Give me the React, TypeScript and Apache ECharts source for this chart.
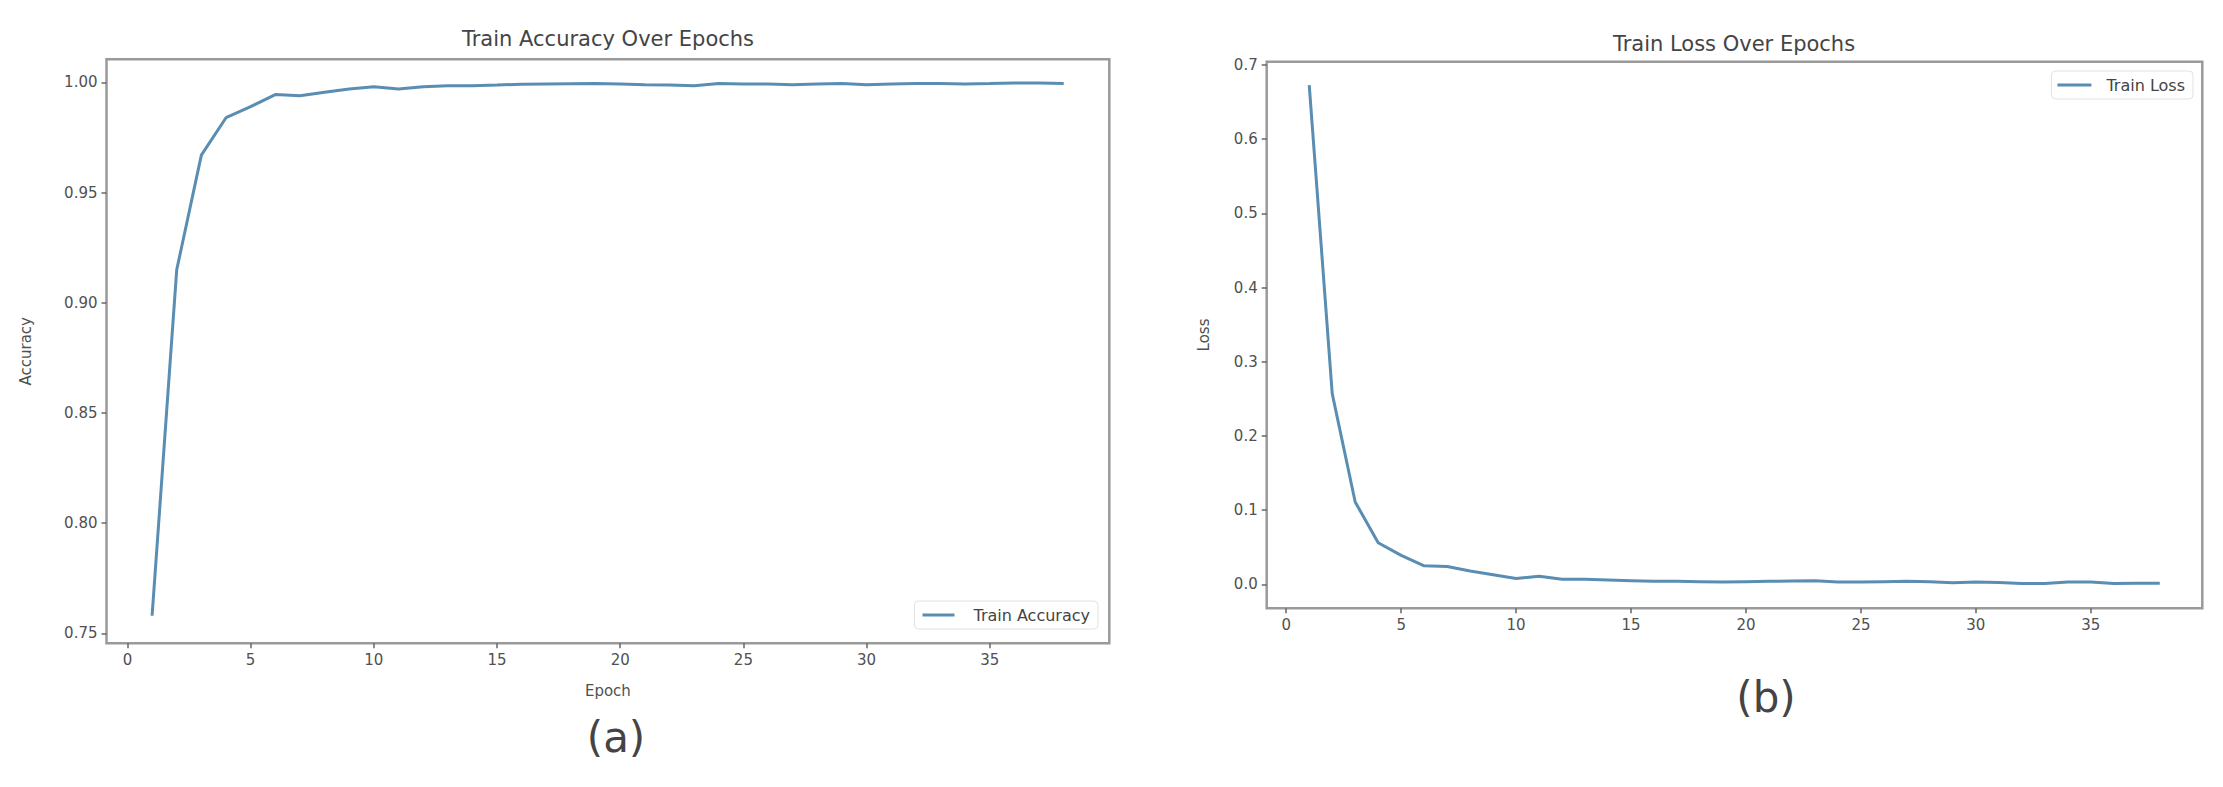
import React, { useEffect, useRef } from "react";
import * as echarts from "echarts";

const epochs = [1, 2, 3, 4, 5, 6, 7, 8, 9, 10, 11, 12, 13, 14, 15, 16, 17, 18, 19, 20, 21, 22, 23, 24, 25, 26, 27, 28, 29, 30, 31, 32, 33, 34, 35, 36, 37, 38];

const trainAccuracy = [
  0.758, 0.915, 0.967, 0.984, 0.989, 0.9945, 0.994, 0.9955, 0.997, 0.998,
  0.997, 0.998, 0.9985, 0.9985, 0.9988, 0.9992, 0.9993, 0.9994, 0.9995, 0.9993,
  0.999, 0.9988, 0.9985, 0.9995, 0.9993, 0.9993, 0.999, 0.9993, 0.9995, 0.999,
  0.9993, 0.9995, 0.9995, 0.9993, 0.9995, 0.9998, 0.9998, 0.9995,
];

const trainLoss = [
  0.673, 0.257, 0.111, 0.056, 0.039, 0.025, 0.024, 0.018, 0.013, 0.008,
  0.011, 0.007, 0.007, 0.006, 0.005, 0.004, 0.004, 0.0035, 0.003, 0.0035,
  0.004, 0.0045, 0.005, 0.003, 0.003, 0.0035, 0.004, 0.0035, 0.002, 0.003,
  0.0025, 0.001, 0.001, 0.003, 0.003, 0.001, 0.0015, 0.0015,
];

const xTicks = [0, 5, 10, 15, 20, 25, 30, 35];
const accTicks = [0.75, 0.8, 0.85, 0.9, 0.95, 1.0];
const lossTicks = [0, 0.1, 0.2, 0.3, 0.4, 0.5, 0.6, 0.7];

const LINE = "#5a8db2";
const SPINE = "#9a9a9a";
const TXT = "#505050";
const FONT = "DejaVu Sans";

export default function App() {
  const ref = useRef<HTMLDivElement>(null);
  useEffect(() => {
    document.body.style.margin = "0";
    const chart = echarts.init(ref.current!, null, { renderer: "svg" });
    const xAxisBase = (gridIndex: number, name: string) => ({
      type: "value",
      gridIndex,
      min: -0.85,
      max: 39.85,
      name,
      nameLocation: "middle",
      nameGap: 40,
      nameTextStyle: { fontSize: 15, color: TXT, fontFamily: FONT },
      axisLine: { show: false, onZero: false },
      splitLine: { show: false },
      axisTick: { show: true, customValues: xTicks, length: 5, lineStyle: { color: "#666", width: 1.5 } },
      axisLabel: { customValues: xTicks, fontSize: 15, color: TXT, fontFamily: FONT, margin: 9 },
    });
    const yAxisBase = (gridIndex: number, name: string, min: number, max: number, ticks: number[], dec: number, gap: number) => ({
      type: "value",
      gridIndex,
      min,
      max,
      name,
      nameLocation: "middle",
      nameGap: gap,
      nameRotate: 90,
      nameTextStyle: { fontSize: 15, color: TXT, fontFamily: FONT },
      axisLine: { show: false, onZero: false },
      splitLine: { show: false },
      axisTick: { show: true, customValues: ticks, length: 5, lineStyle: { color: "#666", width: 1.5 } },
      axisLabel: {
        customValues: ticks,
        fontSize: 15,
        color: TXT,
        fontFamily: FONT,
        margin: 9,
        formatter: (v: number) => v.toFixed(dec),
      },
    });
    chart.setOption({
      animation: false,
      backgroundColor: "#ffffff",
      grid: [
        { left: 106.5, top: 59.3, width: 1002.8, height: 584, show: true, borderColor: SPINE, borderWidth: 2.5, backgroundColor: "transparent" },
        { left: 1266.7, top: 61.7, width: 935.6, height: 546.6, show: true, borderColor: SPINE, borderWidth: 2.5, backgroundColor: "transparent" },
      ],
      xAxis: [xAxisBase(0, "Epoch"), xAxisBase(1, "")],
      yAxis: [
        yAxisBase(0, "Accuracy", 0.7455, 1.0105, accTicks, 2, 73),
        yAxisBase(1, "Loss", -0.0323, 0.7045, lossTicks, 1, 55),
      ],
      legend: [
        {
          data: ["Train Accuracy"],
          right: 1125,
          top: 601,
          orient: "vertical",
          icon: "rect",
          itemWidth: 32,
          itemHeight: 3,
          padding: [6, 8, 6, 8],
          backgroundColor: "#ffffff",
          borderColor: "#e2e2e2",
          borderWidth: 1,
          borderRadius: 4,
          textStyle: { fontSize: 16, color: "#444", fontFamily: FONT, padding: [0, 0, 0, 14] },
        },
        {
          data: ["Train Loss"],
          right: 30,
          top: 71,
          orient: "vertical",
          icon: "rect",
          itemWidth: 34,
          itemHeight: 3,
          padding: [6, 8, 6, 6],
          backgroundColor: "#ffffff",
          borderColor: "#e2e2e2",
          borderWidth: 1,
          borderRadius: 4,
          textStyle: { fontSize: 16, color: "#444", fontFamily: FONT, padding: [0, 0, 0, 10] },
        },
      ],
      series: [
        {
          name: "Train Accuracy",
          type: "line",
          xAxisIndex: 0,
          yAxisIndex: 0,
          symbol: "none",
          lineStyle: { color: LINE, width: 3 },
          itemStyle: { color: LINE },
          data: epochs.map((e, i) => [e, trainAccuracy[i]]),
        },
        {
          name: "Train Loss",
          type: "line",
          xAxisIndex: 1,
          yAxisIndex: 1,
          symbol: "none",
          lineStyle: { color: LINE, width: 3 },
          itemStyle: { color: LINE },
          data: epochs.map((e, i) => [e, trainLoss[i]]),
        },
      ],
      graphic: [
        { type: "text", x: 608, y: 39, style: { text: "Train Accuracy Over Epochs", fontSize: 21, fill: "#444", fontFamily: FONT, textAlign: "center", textVerticalAlign: "middle" } },
        { type: "text", x: 1734, y: 44, style: { text: "Train Loss Over Epochs", fontSize: 21, fill: "#444", fontFamily: FONT, textAlign: "center", textVerticalAlign: "middle" } },
        { type: "text", x: 616, y: 737, style: { text: "(a)", fontSize: 42, fill: "#444", fontFamily: FONT, textAlign: "center", textVerticalAlign: "middle" } },
        { type: "text", x: 1766, y: 697, style: { text: "(b)", fontSize: 42, fill: "#444", fontFamily: FONT, textAlign: "center", textVerticalAlign: "middle" } },
      ],
    });
    return () => chart.dispose();
  }, []);
  return <div ref={ref} style={{ position: "absolute", left: 0, top: 0, width: 2223, height: 787 }} />;
}
